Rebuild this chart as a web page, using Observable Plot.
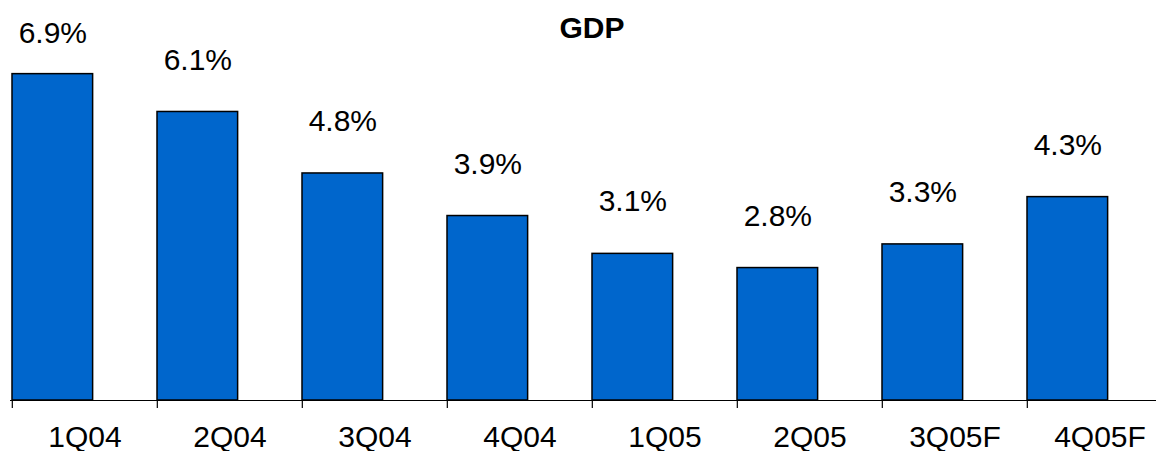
<!DOCTYPE html>
<html><head><meta charset="utf-8">
<script src="https://cdn.jsdelivr.net/npm/d3@7"></script>
<script src="https://cdn.jsdelivr.net/npm/@observablehq/plot@0.6"></script>
<style>body{margin:0;background:#fff} #chart svg{overflow:hidden}</style>
</head><body><div id="chart"></div>
<script>
const quarters = ["1Q04","2Q04","3Q04","4Q04","1Q05","2Q05","3Q05F","4Q05F"];
const gdp = [6.9, 6.1, 4.8, 3.9, 3.1, 2.8, 3.3, 4.3];
const title = "GDP";

const data = quarters.map((q, i) => ({q, v: gdp[i]}));
const W = 1156, H = 451;
const x0 = 10, x1 = 1173, step = (x1 - x0) / quarters.length, barW = 81;
const base = 400, pxPerUnit = 47.3;
const labelGap = 52 / pxPerUnit, labelMax = (base - 33) / pxPerUnit;

const chart = Plot.plot({
  width: W, height: H,
  marginLeft: x0, marginRight: W - x1, marginTop: 0, marginBottom: H - base,
  style: {fontFamily: "'Liberation Sans', Arial, sans-serif", background: "#fff"},
  x: {type: "band", domain: quarters, range: [x0, x1], padding: 0, axis: null},
  y: {domain: [0, 8], range: [base, base - 8 * pxPerUnit], axis: null},
  marks: [
    Plot.barY(data, {x: "q", y: "v", fill: "#0066CC", stroke: "#000", strokeWidth: 1.5, insetRight: step - barW}),
    Plot.ruleY([0], {stroke: "#000", strokeWidth: 1.2}),
    Plot.ruleX(quarters, {x: d => d, y1: 0, y2: -8 / pxPerUnit, dx: -step / 2, stroke: "#000", strokeWidth: 1.2}),
    Plot.text(data, {x: "q", y: d => Math.min(d.v + labelGap, labelMax), text: d => d.v.toFixed(1) + "%", dx: barW / 2 - step / 2, fontSize: 30, fill: "#000"}),
    Plot.text(quarters, {x: d => d, y: 0, text: d => d, dy: 37, fontSize: 30, fill: "#000"}),
    Plot.text([title], {frameAnchor: "top", lineAnchor: "middle", text: d => d, dy: 28, fontSize: 30, fontWeight: "bold", fill: "#000"})
  ]
});
document.getElementById("chart").appendChild(chart);
</script>
</body></html>
